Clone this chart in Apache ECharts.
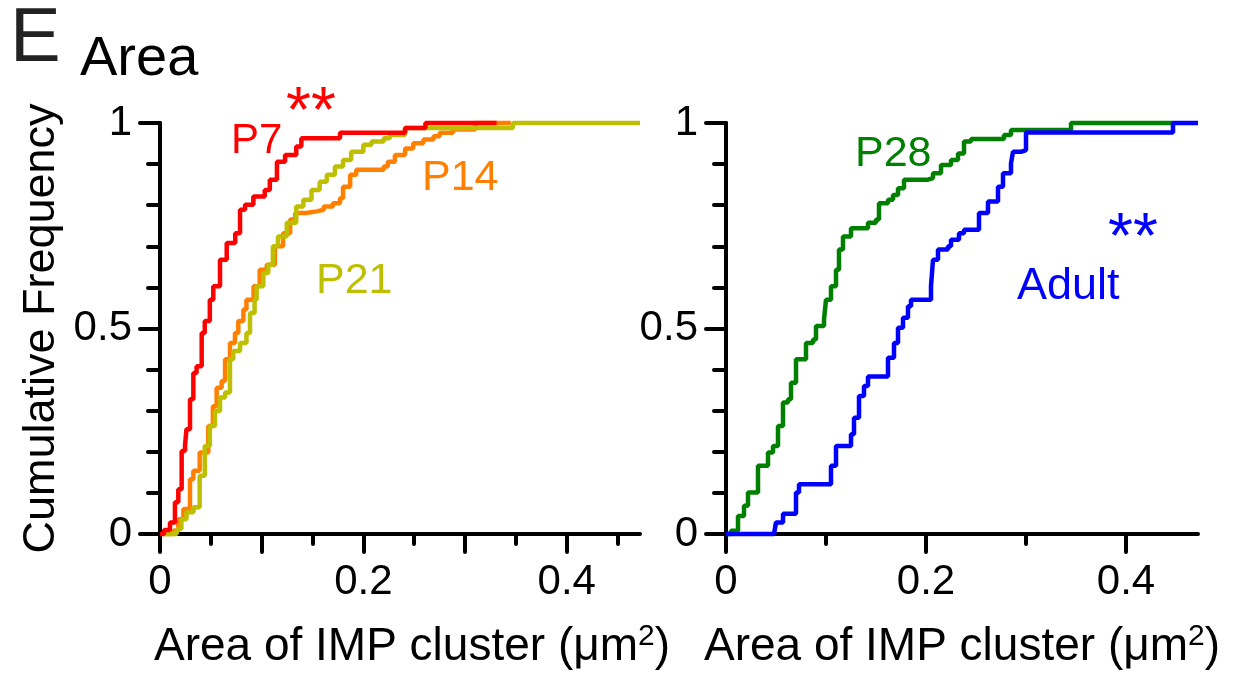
<!DOCTYPE html>
<html>
<head>
<meta charset="utf-8">
<title>Area of IMP cluster</title>
<script src="https://cdn.jsdelivr.net/npm/echarts@6/dist/echarts.min.js"></script>
<style>
  html, body { margin: 0; padding: 0; background: #fff; }
  #chart { width: 1233px; height: 675px; }
</style>
</head>
<body>
<div id="chart"></div>
<script>
// cumulative curves (x = area in um^2, y = cumulative frequency)
const p7Area = [0, 0.004, 0.0098, 0.0147, 0.018, 0.0213, 0.0246, 0.026, 0.0295, 0.0328, 0.036, 0.041, 0.044, 0.049, 0.0524, 0.059, 0.0656, 0.074, 0.0787, 0.0836, 0.0918, 0.103, 0.108, 0.115, 0.123, 0.134, 0.139, 0.177, 0.241, 0.261, 0.331]
const p7Freq = [0, 0.01, 0.028, 0.077, 0.109, 0.202, 0.214, 0.255, 0.328, 0.392, 0.408, 0.489, 0.518, 0.57, 0.603, 0.667, 0.708, 0.732, 0.789, 0.801, 0.821, 0.837, 0.862, 0.906, 0.922, 0.943, 0.963, 0.976, 0.988, 1, 1]

const p14Area = [0.005, 0.013, 0.018, 0.023, 0.0295, 0.0328, 0.039, 0.0475, 0.052, 0.0557, 0.0606, 0.064, 0.0688, 0.0737, 0.077, 0.082, 0.085, 0.092, 0.098, 0.105, 0.113, 0.121, 0.128, 0.133, 0.144, 0.154, 0.161, 0.17, 0.177, 0.18, 0.187, 0.193, 0.22, 0.224, 0.231, 0.241, 0.249, 0.259, 0.269, 0.275, 0.288, 0.31, 0.345]
const p14Freq = [0, 0.008, 0.036, 0.061, 0.133, 0.154, 0.198, 0.263, 0.311, 0.356, 0.372, 0.425, 0.465, 0.489, 0.518, 0.546, 0.57, 0.603, 0.643, 0.655, 0.7, 0.732, 0.765, 0.781, 0.785, 0.789, 0.797, 0.805, 0.817, 0.845, 0.874, 0.886, 0.894, 0.906, 0.922, 0.938, 0.951, 0.96, 0.968, 0.976, 0.984, 1, 1]

const p21Area = [0.003, 0.0164, 0.021, 0.026, 0.033, 0.039, 0.044, 0.049, 0.054, 0.059, 0.064, 0.0688, 0.072, 0.0787, 0.085, 0.0885, 0.093, 0.095, 0.1016, 0.1065, 0.111, 0.116, 0.1246, 0.134, 0.141, 0.149, 0.157, 0.164, 0.172, 0.18, 0.188, 0.2, 0.208, 0.22, 0.226, 0.241, 0.347, 0.472]
const p21Freq = [0, 0.012, 0.036, 0.053, 0.065, 0.142, 0.214, 0.263, 0.299, 0.332, 0.344, 0.425, 0.445, 0.465, 0.489, 0.538, 0.57, 0.603, 0.635, 0.655, 0.7, 0.724, 0.757, 0.797, 0.813, 0.837, 0.857, 0.874, 0.894, 0.91, 0.93, 0.947, 0.955, 0.963, 0.971, 0.988, 1, 1]

const p28Area = [0, 0.005, 0.012, 0.018, 0.022, 0.032, 0.042, 0.047, 0.052, 0.057, 0.062, 0.065, 0.07, 0.08, 0.087, 0.09, 0.098, 0.1, 0.105, 0.11, 0.113, 0.117, 0.125, 0.142, 0.15, 0.153, 0.162, 0.167, 0.172, 0.178, 0.202, 0.207, 0.215, 0.225, 0.232, 0.238, 0.245, 0.278, 0.285, 0.345, 0.447]
const p28Freq = [0, 0.008, 0.044, 0.069, 0.101, 0.166, 0.198, 0.214, 0.263, 0.32, 0.328, 0.368, 0.425, 0.465, 0.473, 0.506, 0.522, 0.57, 0.603, 0.643, 0.692, 0.724, 0.744, 0.757, 0.765, 0.805, 0.813, 0.825, 0.841, 0.862, 0.866, 0.878, 0.898, 0.91, 0.926, 0.955, 0.961, 0.971, 0.983, 1, 1]

const adultArea = [0, 0.048, 0.05, 0.057, 0.07, 0.073, 0.105, 0.11, 0.125, 0.128, 0.133, 0.138, 0.142, 0.162, 0.168, 0.172, 0.177, 0.182, 0.185, 0.205, 0.207, 0.212, 0.222, 0.225, 0.233, 0.238, 0.253, 0.262, 0.272, 0.277, 0.285, 0.287, 0.295, 0.3, 0.447, 0.472]
const adultFreq = [0, 0, 0.028, 0.049, 0.101, 0.121, 0.166, 0.214, 0.243, 0.283, 0.336, 0.36, 0.383, 0.429, 0.465, 0.502, 0.526, 0.554, 0.57, 0.603, 0.667, 0.692, 0.7, 0.716, 0.732, 0.74, 0.781, 0.809, 0.845, 0.878, 0.902, 0.93, 0.934, 0.977, 1, 1]

// tick positions
const leftMajorTicks = [0, 0.1, 0.2, 0.3, 0.4]
const leftMinorTicks = [0.05, 0.15, 0.25, 0.35, 0.45]
const rightMajorTicks = [0, 0.2, 0.4]
const rightMinorTicks = [0.1, 0.3]
const xLabelValues = [0, 0.2, 0.4]

const FONT = 'Liberation Sans, Arial, sans-serif'
const X_MAX = 0.472

const zip = (xs, ys) => xs.map((x, i) => [x, ys[i]])

const chart = echarts.init(document.getElementById('chart'), null, { renderer: 'canvas' })

const xName = '{t|Area of IMP cluster (μm}{s|2}{t|)}'
const xNameStyle = (padLeft) => ({
  color: '#000',
  padding: [0, 0, 0, padLeft],
  rich: {
    t: { fontFamily: FONT, fontSize: 46, color: '#000' },
    s: { fontFamily: FONT, fontSize: 30, color: '#000', verticalAlign: 'top', padding: [0, 0, 20, 0] },
  },
})

// main x axis: line, long ticks, labels
const mainX = (grid, major, padLeft) => ({
  type: 'value',
  gridIndex: grid,
  position: 'bottom',
  min: 0,
  max: X_MAX,
  splitLine: { show: false },
  axisLine: { show: true, lineStyle: { color: '#000', width: 4, cap: 'round' } },
  axisTick: { show: true, customValues: major, length: 18, lineStyle: { color: '#000', width: 4, cap: 'round' } },
  axisLabel: {
    show: true,
    customValues: xLabelValues,
    margin: 27,
    fontFamily: FONT,
    fontSize: 42,
    color: '#000',
    formatter: (v) => (v === 0 ? '0' : String(v)),
  },
  name: xName,
  nameLocation: 'middle',
  nameGap: 88,
  nameTextStyle: xNameStyle(padLeft),
})

// second x axis on the same grid: only the short ticks
const minorX = (grid, minor) => ({
  type: 'value',
  gridIndex: grid,
  position: 'bottom',
  min: 0,
  max: X_MAX,
  splitLine: { show: false },
  axisLine: { show: false },
  axisTick: { show: true, customValues: minor, length: 10, lineStyle: { color: '#000', width: 4, cap: 'round' } },
  axisLabel: { show: false },
})

const yAxisFor = (grid, withName) => ({
  type: 'value',
  gridIndex: grid,
  min: 0,
  max: 1,
  interval: 0.5,
  splitLine: { show: false },
  axisLine: { show: true, lineStyle: { color: '#000', width: 4, cap: 'round' } },
  axisTick: { show: true, length: 20, lineStyle: { color: '#000', width: 4, cap: 'round' } },
  minorTick: { show: true, splitNumber: 5, length: 12, lineStyle: { color: '#000', width: 4, cap: 'round' } },
  axisLabel: {
    margin: 28,
    fontFamily: FONT,
    fontSize: 42,
    color: '#000',
    formatter: (v) => (v === 0 ? '0' : String(v)),
  },
  name: withName ? 'Cumulative Frequency' : '',
  nameLocation: 'middle',
  nameGap: 96,
  nameTextStyle: { fontFamily: FONT, fontSize: 45, color: '#000' },
})

const curve = (name, data, color, xi, yi, z) => ({
  name,
  type: 'line',
  step: 'end',
  data,
  xAxisIndex: xi,
  yAxisIndex: yi,
  showSymbol: false,
  clip: false,
  z,
  lineStyle: { color, width: 4.5 },
  itemStyle: { color },
})

const label = (text, x, y, color, size) => ({
  type: 'text',
  x,
  y,
  style: { text, fill: color, font: `${size}px ${FONT}`, textVerticalAlign: 'middle' },
})

const option = {
  animation: false,
  backgroundColor: '#fff',
  grid: [
    { left: 160, top: 123, width: 480, height: 412 },
    { left: 726, top: 123, width: 472, height: 412 },
  ],
  xAxis: [
    mainX(0, leftMajorTicks, 24),
    minorX(0, leftMinorTicks),
    mainX(1, rightMajorTicks, 0),
    minorX(1, rightMinorTicks),
  ],
  yAxis: [yAxisFor(0, true), yAxisFor(1, false)],
  series: [
    curve('P14', zip(p14Area, p14Freq), '#ff8000', 0, 0, 3),
    curve('P21', zip(p21Area, p21Freq), '#bdbf00', 0, 0, 4),
    curve('P7', zip(p7Area, p7Freq), '#ff0000', 0, 0, 5),
    curve('P28', zip(p28Area, p28Freq), '#008000', 2, 1, 3),
    curve('Adult', zip(adultArea, adultFreq), '#0000ff', 2, 1, 4),
  ],
  graphic: [
    label('E', 10, 40, '#222', 76),
    label('Area', 80, 60, '#000', 56),
    label('P7', 231, 141, '#ff0000', 42),
    label('**', 286, 114, '#ff0000', 64),
    label('P14', 422, 178, '#ff8000', 43),
    label('P21', 316, 281, '#bdbf00', 43),
    label('P28', 855, 154, '#008000', 43),
    label('**', 1108, 240, '#0000ff', 64),
    label('Adult', 1017, 287, '#0000ff', 45),
  ],
}

chart.setOption(option)
</script>
</body>
</html>
